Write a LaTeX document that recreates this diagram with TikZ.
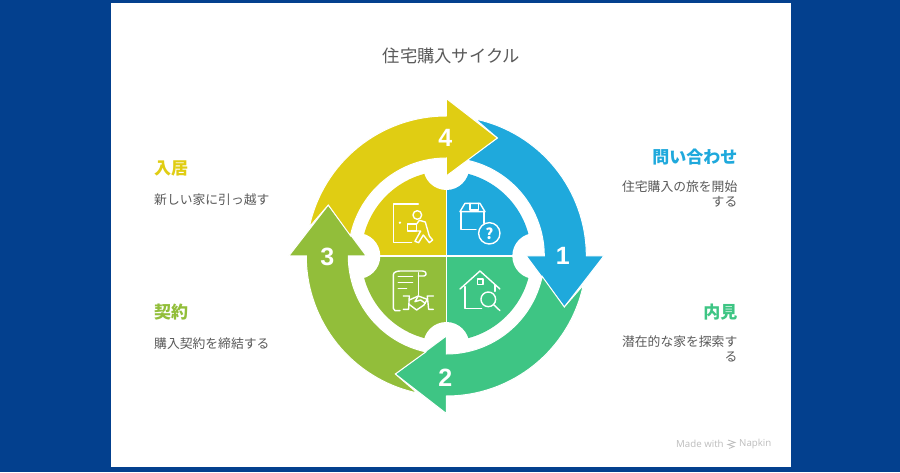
\documentclass[tikz,border=0pt]{standalone}
\usepackage{fontspec}
\setmainfont{Noto Sans CJK JP}
\newfontfamily\latinfont{Open Sans}
\newfontfamily\digitfont{Liberation Sans}
\usetikzlibrary{calc}
\definecolor{navy}{HTML}{03408E}
\definecolor{cblue}{HTML}{1FA9DC}
\definecolor{cgreen}{HTML}{3EC584}
\definecolor{colive}{HTML}{92BE3A}
\definecolor{cyellow}{HTML}{E0CD13}
\definecolor{body}{HTML}{5A5A5A}
\definecolor{faint}{HTML}{BDBDBD}
\tikzset{
  every node/.style={inner sep=0pt},
  arrowband/.style={draw=white, line width=1pt, line join=miter},
  icon/.style={draw=white, line width=1.4pt, line cap=round, line join=round},
  digit/.style={text=white, font=\fontsize{25}{25}\digitfont\bfseries},
  head/.style={font=\fontsize{17}{20}\selectfont\bfseries},
  desc/.style={text=body, font=\fontsize{12.8}{15}\selectfont},
}

\begin{document}
\begin{tikzpicture}[x=1pt,y=1pt]
  \useasboundingbox (0,0) rectangle (900,472);
  \fill[navy] (0,0) rectangle (900,472);
  \fill[white] (111,5) rectangle (791,469);

  \node[text=body, font=\fontsize{17.3}{20}\selectfont] (title) at (451.5,416.5) {住宅購入サイクル};

  % quarter pieces, notches, then the arrows on top
  \begin{scope}[shift={(446.3,216)}]
    \fill[cblue] (0,0) -- (90:85) arc[start angle=90, end angle=0, radius=85] -- cycle;
    \fill[cgreen] (0,0) -- (0:85) arc[start angle=0, end angle=-90, radius=85] -- cycle;
    \fill[colive] (0,0) -- (-90:85) arc[start angle=-90, end angle=-180, radius=85] -- cycle;
    \fill[cyellow] (0,0) -- (180:85) arc[start angle=180, end angle=90, radius=85] -- cycle;
    \draw[white, line width=1.2pt] (-86,0) -- (86,0) (0,-86) -- (0,86);
    \foreach \ang in {0,90,180,270}
      \fill[white] (\ang:89) circle[radius=23];

    \foreach \ang/\col in {0/cblue,-90/cgreen,-180/colive,-270/cyellow}{
      \begin{scope}[rotate=\ang]
        \filldraw[arrowband, fill=\col] (78:140) arc[start angle=78, end angle=0, radius=140]
          -- (157.5,0) -- (118,-51) -- (80,0) -- (98,0)
          arc[start angle=0, end angle=78, radius=98] -- (51,118) -- cycle;
      \end{scope}
    }

    \node[digit] (num1) at (116.5,0) {1};
    \node[digit] (num2) at (-1,-121.5) {2};
    \node[digit] (num3) at (-119,-0.5) {3};
    \node[digit] (num4) at (-1,118) {4};
  \end{scope}

  % icons, in units of a third of a pixel
  \begin{scope}[shift={(446.3,216)}, x=0.3333pt, y=-0.3333pt, shift={(-289,-288)}]
    % box and question mark
    \draw[icon] (330,155) -- (345,130) -- (390,130) -- (405,155) -- cycle;
    \draw[icon] (360,130) -- (360,150) -- (385,150) -- (385,130);
    \draw[icon] (333,155) -- (333,208) -- (378,208);
    \draw[icon] (402,155) -- (402,190);
    \draw[icon] (418,220) circle[radius=32];
    \node[text=white, font=\fontsize{15}{15}\selectfont\bfseries] (mark) at (418,220) {?};
    % house and magnifier
    \draw[icon] (330,387) -- (390,333) -- (450,387);
    \draw[icon] (382,357) rectangle (399,374);
    \draw[icon] (345,380) -- (345,445) -- (395,445);
    \draw[icon] (435,375) -- (435,394);
    \draw[icon] (415,418) circle[radius=22];
    \draw[icon] (431,434) -- (450,452);
    % scroll and handshake
    \draw[icon] (150,452) -- (135,452) -- (130,445) -- (130,345) .. controls (130,337) and (140,333) .. (150,333) -- (218,333) .. controls (230,333) and (232,347) .. (222,348) -- (205,348);
    \draw[icon] (205,338) -- (205,405);
    \draw[icon] (145,350) -- (188,350) (145,368) -- (188,368) (145,385) -- (170,385);
    \draw[icon] (160,408) -- (178,408) -- (176,448) -- (160,448);
    \draw[icon] (250,408) -- (232,408) -- (236,448) -- (250,448);
    \draw[icon] (178,420) -- (205,408) -- (232,418) -- (222,435) -- (200,450) -- (176,432);
    \draw[icon] (205,408) -- (195,425) -- (212,420) -- (226,430);
    % door and mover
    \draw[icon] (205,132) -- (130,132) -- (130,248) -- (185,248);
    \fill[white] (150,188) circle[radius=4];
    \draw[icon] (202,165) circle[radius=13];
    \draw[icon] (173,192) rectangle (200,213);
    \draw[icon] (200,192) -- (208,181) -- (226,186) -- (238,228) -- (248,240) -- (238,248) -- (220,225) -- (206,248) -- (195,244) -- (212,213) -- (200,213);
  \end{scope}

  % labels on the right
  \node[head, text=cblue, anchor=east] (askhead) at (737.5,314.5) {問い合わせ};
  \node[desc, anchor=east] (asktexta) at (737.5,285.5) {住宅購入の旅を開始};
  \node[desc, anchor=east] (asktextb) at (737.5,270.5) {する};
  \node[head, text=cgreen, anchor=east] (viewhead) at (737.5,159.5) {内見};
  \node[desc, anchor=east] (viewtexta) at (737.5,130.5) {潜在的な家を探索す};
  \node[desc, anchor=east] (viewtextb) at (737.5,115.5) {る};

  % labels on the left
  \node[head, text=cyellow, anchor=west] (movehead) at (154,303.5) {入居};
  \node[desc, anchor=west] (movetext) at (154,272.5) {新しい家に引っ越す};
  \node[head, text=colive, anchor=west] (signhead) at (154,159.5) {契約};
  \node[desc, anchor=west] (signtext) at (154,128.5) {購入契約を締結する};

  % footer
  \node[text=faint, font=\fontsize{9.7}{10}\latinfont, anchor=west] (madewith) at (676,28) {Made with};
  \node[text=faint, font=\fontsize{9.7}{10}\latinfont, anchor=west] (napkin) at (739,28) {Napkin};
  \draw[faint, line width=0.8pt] (728,32) -- (735,29.5) -- (728,27.5) -- (734,25.5) -- (729,23.5);
\end{tikzpicture}
\end{document}
